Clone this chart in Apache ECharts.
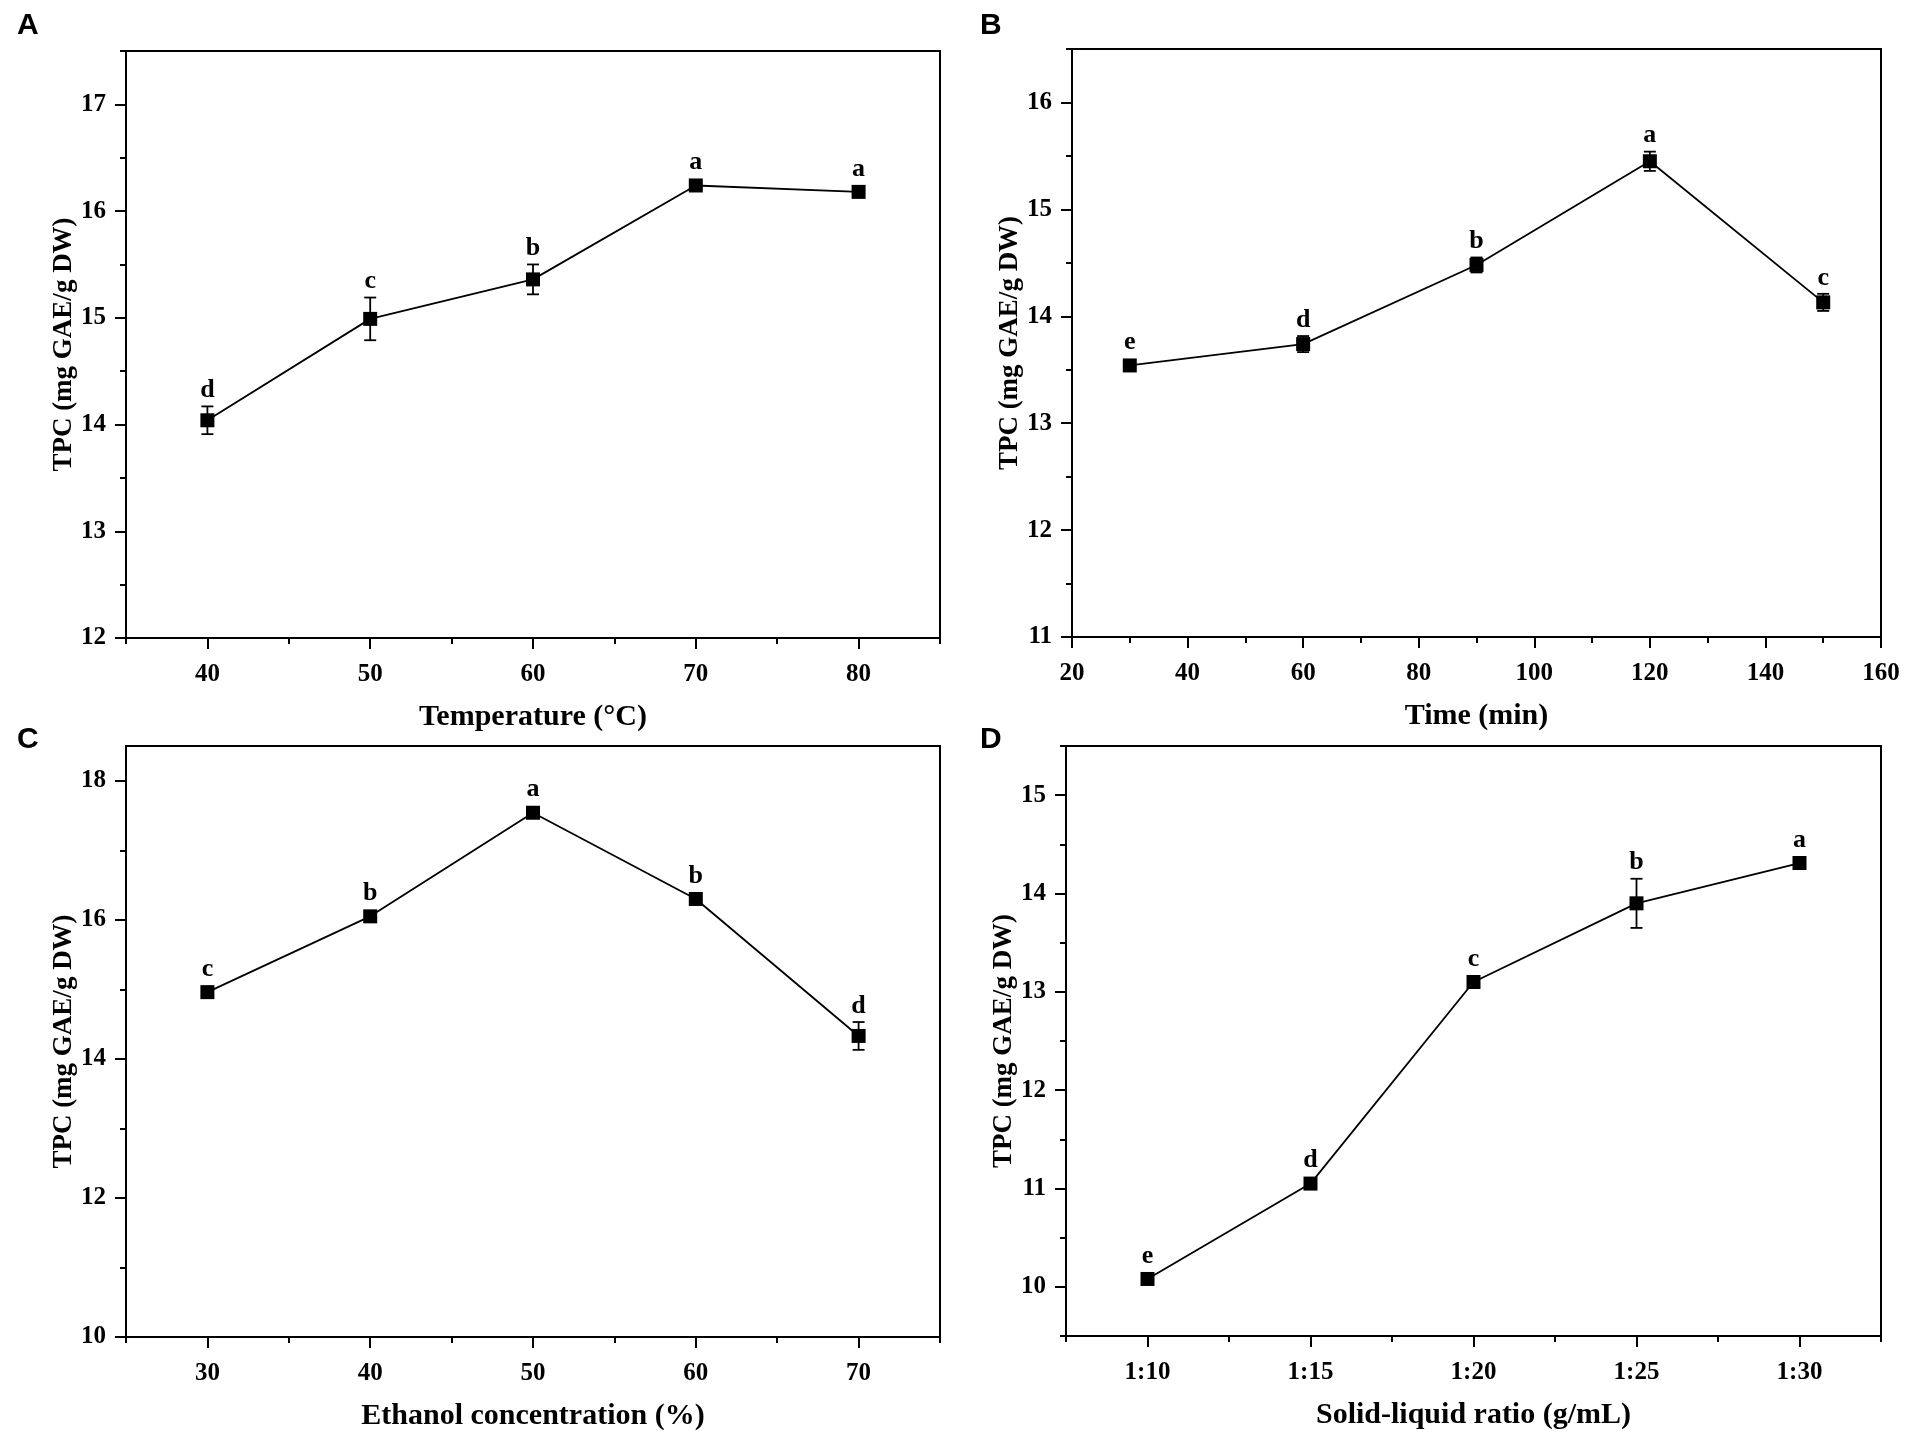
<!DOCTYPE html>
<html>
<head>
<meta charset="UTF-8">
<title>TPC extraction factors</title>
<script src="https://cdn.jsdelivr.net/npm/echarts@6/dist/echarts.min.js"></script>
<style>
  html, body { margin: 0; padding: 0; background: #fff; }
  #main { width: 1910px; height: 1443px; }
</style>
</head>
<body>
<div id="main"></div>
<script>
// A - temperature
var tempX = [40, 50, 60, 70, 80];
var tempY = [14.04, 14.99, 15.36, 16.24, 16.18];
var tempErr = [0.13, 0.20, 0.14, 0.04, 0.03];
var tempSig = ['d', 'c', 'b', 'a', 'a'];

// B - time
var timeX = [30, 60, 90, 120, 150];
var timeY = [13.54, 13.74, 14.48, 15.45, 14.13];
var timeErr = [0.04, 0.075, 0.07, 0.09, 0.08];
var timeSig = ['e', 'd', 'b', 'a', 'c'];

// C - ethanol concentration
var ethX = [30, 40, 50, 60, 70];
var ethY = [14.96, 16.05, 17.54, 16.30, 14.33];
var ethErr = [0.03, 0.04, 0.05, 0.05, 0.20];
var ethSig = ['c', 'b', 'a', 'b', 'd'];

// D - solid-liquid ratio (1:x)
var ratioX = [10, 15, 20, 25, 30];
var ratioY = [10.08, 11.05, 13.10, 13.90, 14.31];
var ratioErr = [0.02, 0.03, 0.03, 0.25, 0.03];
var ratioSig = ['e', 'd', 'c', 'b', 'a'];

// tick values
var tempTicks = [40, 50, 60, 70, 80];
var tempMinor = [35, 45, 55, 65, 75, 85];
var timeTicks = [20, 40, 60, 80, 100, 120, 140, 160];
var timeMinor = [30, 50, 70, 90, 110, 130, 150];
var ethTicks = [30, 40, 50, 60, 70];
var ethMinor = [25, 35, 45, 55, 65, 75];
var ratioTicks = [10, 15, 20, 25, 30];
var ratioMinor = [7.5, 12.5, 17.5, 22.5, 27.5, 32.5];

var yTicksA = [12, 13, 14, 15, 16, 17];
var yMinorA = [12.5, 13.5, 14.5, 15.5, 16.5, 17.5];
var yTicksB = [11, 12, 13, 14, 15, 16];
var yMinorB = [11.5, 12.5, 13.5, 14.5, 15.5, 16.5];
var yTicksC = [10, 12, 14, 16, 18];
var yMinorC = [11, 13, 15, 17];
var yTicksD = [10, 11, 12, 13, 14, 15];
var yMinorD = [9.5, 10.5, 11.5, 12.5, 13.5, 14.5, 15.5];

var yTitle = 'TPC (mg GAE/g DW)';
var serif = 'Liberation Serif';

var panels = [
    {letter: 'A', lx: 17, ly: 11, grid: {left: 126, top: 51, width: 814, height: 587},
     x: tempX, y: tempY, err: tempErr, sig: tempSig, xName: 'Temperature (°C)',
     xMin: 35, xMax: 85, xTicks: tempTicks, xMinor: tempMinor,
     yMin: 12, yMax: 17.5, yTicks: yTicksA, yMinor: yMinorA},
    {letter: 'B', lx: 980, ly: 11, grid: {left: 1072, top: 49, width: 809, height: 588},
     x: timeX, y: timeY, err: timeErr, sig: timeSig, xName: 'Time (min)',
     xMin: 20, xMax: 160, xTicks: timeTicks, xMinor: timeMinor,
     yMin: 11, yMax: 16.5, yTicks: yTicksB, yMinor: yMinorB},
    {letter: 'C', lx: 17, ly: 725, grid: {left: 126, top: 746, width: 814, height: 591},
     x: ethX, y: ethY, err: ethErr, sig: ethSig, xName: 'Ethanol concentration (%)',
     xMin: 25, xMax: 75, xTicks: ethTicks, xMinor: ethMinor,
     yMin: 10, yMax: 18.5, yTicks: yTicksC, yMinor: yMinorC},
    {letter: 'D', lx: 980, ly: 725, grid: {left: 1066, top: 746, width: 815, height: 590},
     x: ratioX, y: ratioY, err: ratioErr, sig: ratioSig, xName: 'Solid-liquid ratio (g/mL)',
     xMin: 7.5, xMax: 32.5, xTicks: ratioTicks, xMinor: ratioMinor,
     xFmt: function (v) { return '1:' + v; },
     yMin: 9.5, yMax: 15.5, yTicks: yTicksD, yMinor: yMinorD}
];

var labelStyle = {color: '#000', fontFamily: serif, fontWeight: 'bold', fontSize: 25};

function mainAxis(i, min, max, ticks, fmt, isX, name) {
    return {
        type: 'value', gridIndex: i, min: min, max: max,
        position: isX ? 'bottom' : 'left',
        axisLine: {show: true, onZero: false, lineStyle: {color: '#000', width: 2}},
        axisTick: {show: true, length: 11, customValues: ticks, lineStyle: {color: '#000', width: 2}},
        axisLabel: Object.assign({customValues: ticks, margin: isX ? 24 : 20,
            formatter: fmt || function (v) { return String(v); }}, labelStyle),
        splitLine: {show: false},
        name: name, nameLocation: 'middle', nameGap: isX ? 64 : 43,
        nameTextStyle: {color: '#000', fontFamily: serif, fontWeight: 'bold', fontSize: isX ? 30 : 27}
    };
}

function minorAxis(i, min, max, ticks, isX) {
    return {
        type: 'value', gridIndex: i, min: min, max: max,
        position: isX ? 'bottom' : 'left', offset: 0,
        axisLine: {show: false, onZero: false},
        axisTick: {show: true, length: 6, customValues: ticks, lineStyle: {color: '#000', width: 2}},
        axisLabel: {show: false},
        splitLine: {show: false}
    };
}

var option = {
    backgroundColor: '#fff',
    animation: false,
    grid: [], xAxis: [], yAxis: [], series: [],
    graphic: []
};

panels.forEach(function (p, i) {
    option.grid.push(Object.assign({show: true, borderColor: '#000', borderWidth: 2, backgroundColor: 'transparent'}, p.grid));
    option.xAxis.push(mainAxis(i, p.xMin, p.xMax, p.xTicks, p.xFmt, true, p.xName));
    option.xAxis.push(minorAxis(i, p.xMin, p.xMax, p.xMinor, true));
    option.yAxis.push(mainAxis(i, p.yMin, p.yMax, p.yTicks, null, false, yTitle));
    option.yAxis.push(minorAxis(i, p.yMin, p.yMax, p.yMinor, false));

    option.series.push({
        type: 'line', xAxisIndex: 2 * i, yAxisIndex: 2 * i,
        data: p.x.map(function (v, k) { return [v, p.y[k]]; }),
        symbol: 'rect', symbolSize: 14,
        itemStyle: {color: '#000'},
        lineStyle: {color: '#000', width: 1.8},
        z: 3
    });

    option.series.push({
        type: 'custom', xAxisIndex: 2 * i, yAxisIndex: 2 * i,
        data: p.x.map(function (v, k) { return [v, p.y[k], p.err[k]]; }),
        encode: {x: 0, y: 1},
        z: 4,
        renderItem: function (params, api) {
            var x = api.value(0), y = api.value(1), e = api.value(2);
            var c = api.coord([x, y]);
            var top = api.coord([x, y + e])[1];
            var bot = api.coord([x, y - e])[1];
            var hw = 6;
            var ls = {stroke: '#000', lineWidth: 1.8};
            var ty = Math.min(top, c[1] - 7) - 3;
            return {
                type: 'group',
                children: [
                    {type: 'line', shape: {x1: c[0], y1: top, x2: c[0], y2: bot}, style: ls},
                    {type: 'line', shape: {x1: c[0] - hw, y1: top, x2: c[0] + hw, y2: top}, style: ls},
                    {type: 'line', shape: {x1: c[0] - hw, y1: bot, x2: c[0] + hw, y2: bot}, style: ls},
                    {type: 'text', x: c[0], y: ty, style: {
                        text: p.sig[params.dataIndex], fill: '#000',
                        font: 'bold 26px "' + serif + '"',
                        align: 'center', verticalAlign: 'bottom'
                    }}
                ]
            };
        }
    });

    option.graphic.push({
        type: 'text', left: p.lx, top: p.ly,
        style: {text: p.letter, fill: '#000', font: 'bold 30px "Liberation Sans"'}
    });
});

var myChart = echarts.init(document.getElementById('main'));
myChart.setOption(option);
</script>
</body>
</html>
